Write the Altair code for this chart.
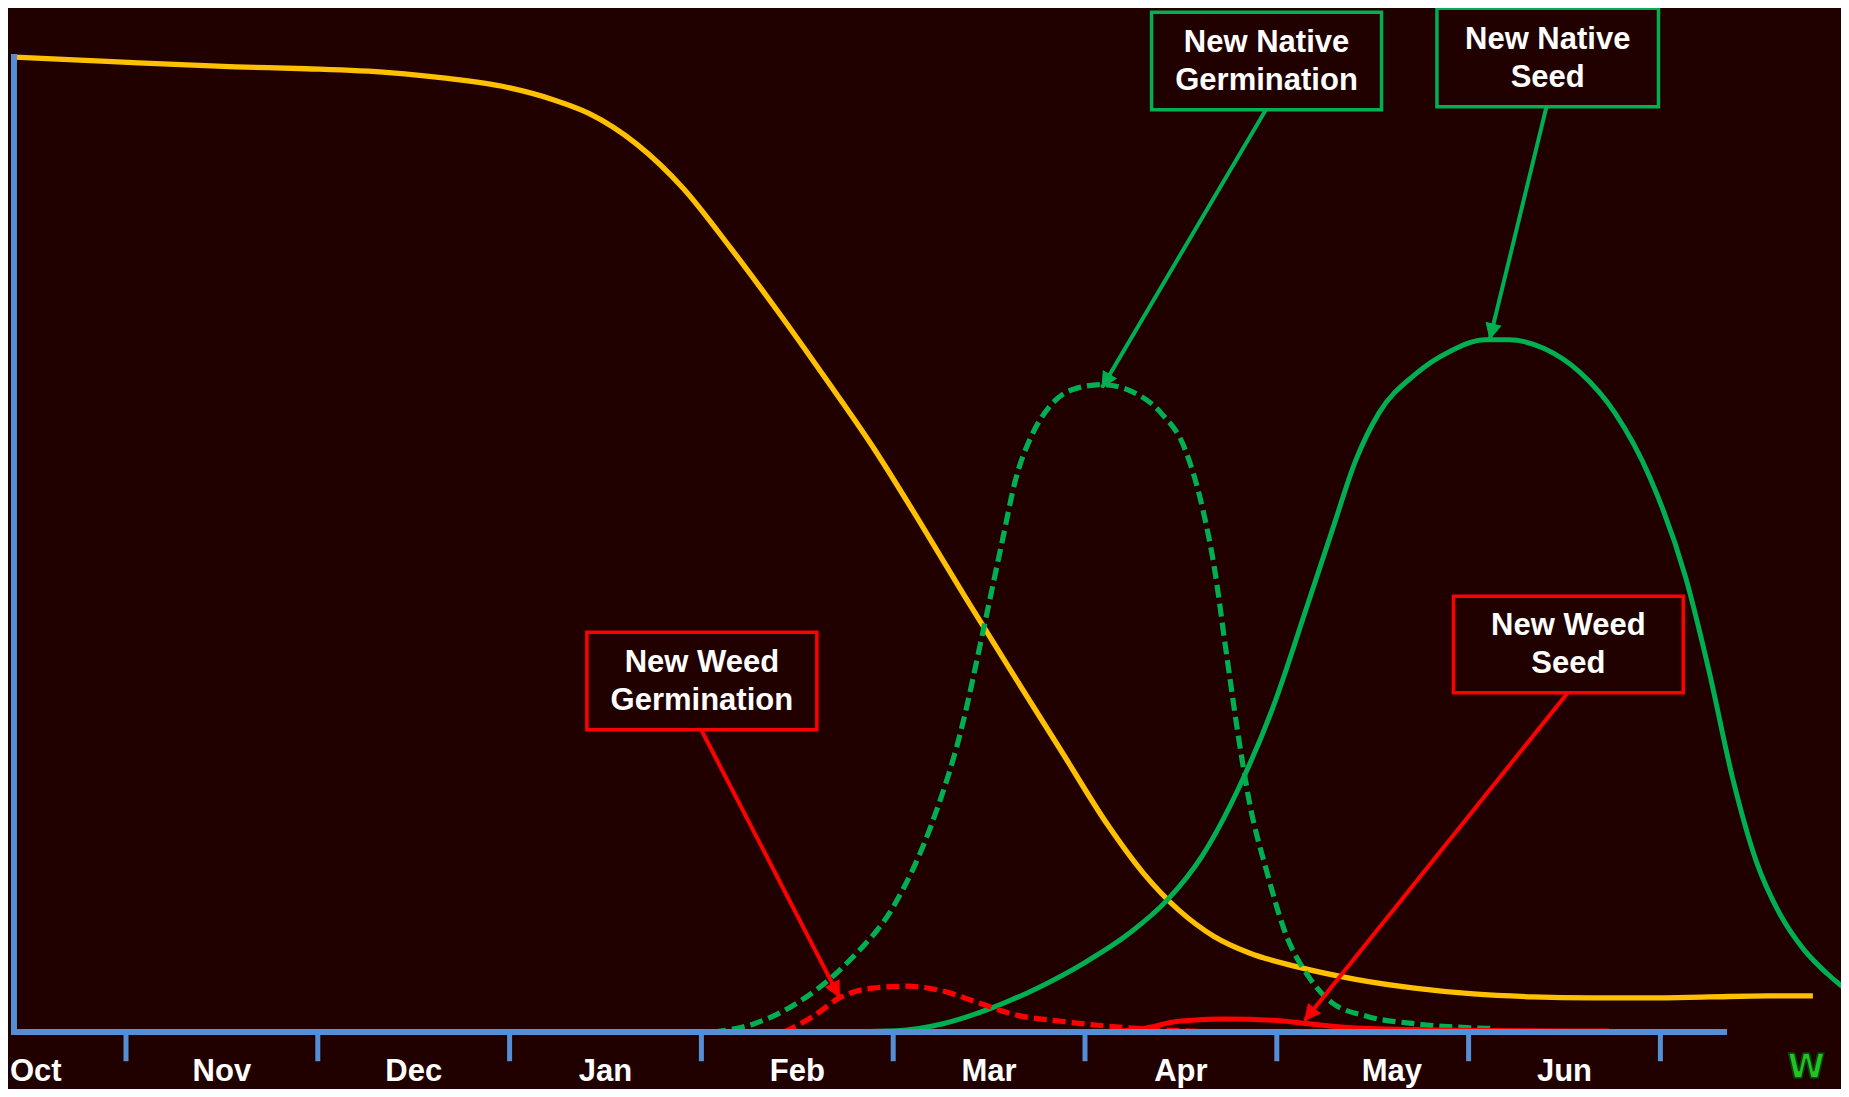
import math
import altair as alt
import pandas as pd

# ---------------- data (x in months: Nov start = 1 ... Jul start = 9; y in % of start) -------------
months = ["Oct", "Nov", "Dec", "Jan", "Feb", "Mar", "Apr", "May", "Jun"]
month_label_x = [0.53, 1.5, 2.5, 3.5, 4.5, 5.5, 6.5, 7.6, 8.5]
tick_x = [1, 2, 3, 4, 5, 6, 7, 8, 9]

seedbank_x = [0.416, 0.957, 1.572, 1.940, 2.371, 2.678, 2.985, 3.231, 3.416, 3.661, 3.907, 4.153,
              4.399, 4.645, 4.891, 5.136, 5.382, 5.628, 5.874, 6.120, 6.304, 6.489, 6.673, 6.857,
              7.103, 7.411, 7.718, 8.025, 8.333, 8.640, 8.947, 9.255, 9.562, 9.795]
seedbank_y = [100, 99.5, 99.0, 98.8, 98.4, 97.8, 96.9, 95.6, 94.2, 91.1, 86.5, 80.4,
              73.9, 67.1, 60.1, 52.4, 44.4, 36.6, 28.9, 21.2, 16.3, 12.5, 9.8, 8.1,
              6.7, 5.4, 4.5, 3.9, 3.6, 3.5, 3.5, 3.6, 3.7, 3.7]

native_germ_x = [4.061, 4.276, 4.522, 4.768, 5.014, 5.198, 5.352, 5.475, 5.567, 5.640, 5.720, 5.813,
                 5.936, 6.089, 6.243, 6.396, 6.519, 6.612, 6.673, 6.734, 6.796, 6.857, 6.950, 7.042,
                 7.165, 7.288, 7.472, 7.718, 8.117]
native_germ_y = [0, 0.85, 3.26, 7.26, 13.3, 21.2, 30.8, 41.7, 50.2, 56.8, 61.1, 64.1,
                 65.9, 66.4, 65.7, 63.5, 59.9, 53.8, 47.8, 39.3, 30.8, 23.6, 16.3, 10.3,
                 5.7, 3.0, 1.6, 0.85, 0.36]

native_seed_x = [4.030, 4.645, 5.014, 5.259, 5.505, 5.751, 5.997, 6.243, 6.427, 6.612, 6.796, 6.980,
                 7.165, 7.288, 7.411, 7.533, 7.718, 7.902, 8.087, 8.210, 8.394, 8.578, 8.763, 8.947,
                 9.132, 9.255, 9.377, 9.500, 9.623, 9.746, 9.869, 9.980, 10.115]
native_seed_y = [0, 0, 0.12, 0.85, 2.4, 4.5, 7.1, 10.3, 13.5, 18.1, 24.8, 33.3,
                 44.1, 51.4, 58.6, 63.5, 67.4, 69.8, 71.0, 71.0, 70.1, 67.7, 63.5, 56.8,
                 46.6, 36.9, 26.0, 17.5, 12.1, 8.5, 6.0, 4.2, 2.8]

weed_germ_x = [4.430, 4.583, 4.719, 4.891, 5.075, 5.259, 5.444, 5.628, 5.874, 6.120, 6.366, 6.734]
weed_germ_y = [0, 1.6, 3.5, 4.5, 4.7, 4.2, 3.0, 1.8, 1.1, 0.6, 0.25, 0]

weed_seed_x = [6.120, 6.304, 6.489, 6.734, 6.980, 7.165, 7.350, 7.718, 8.333, 8.732]
weed_seed_y = [0, 0.36, 1.1, 1.33, 1.2, 0.85, 0.5, 0.25, 0.12, 0.1]

# annotation boxes: text, box extent, arrow start -> tip
ann_text = ["New Native\nGermination", "New Native\nSeed", "New Weed\nGermination", "New Weed\nSeed"]
ann_box_x = [(6.347, 7.546), (7.835, 8.990), (3.403, 4.602), (7.921, 9.119)]
ann_box_y = [(94.6, 104.6), (94.9, 105.0), (31.0, 41.0), (34.8, 44.7)]
ann_arrow_from = [(6.943, 94.6), (8.406, 94.9), (3.999, 31.0), (8.517, 34.8)]
ann_arrow_to = [(6.089, 66.1), (8.111, 71.1), (4.719, 3.6), (7.146, 1.2)]

# ---------------- styling ----------------
BG = "#210000"
YELLOW = "#FFC000"
GREEN = "#00B050"
RED = "#FF0000"
AXIS = "#558ED5"
ann_color = [GREEN, GREEN, RED, RED]

W, H = 1833, 1081
X_DOM = [0.3848, 9.9416]
Y_DOM = [-5.846, 105.03]
PX_X = W / (X_DOM[1] - X_DOM[0])
PX_Y = H / (Y_DOM[1] - Y_DOM[0])

xs = alt.Scale(domain=X_DOM, nice=False, zero=False)
ys = alt.Scale(domain=Y_DOM, nice=False, zero=False)


def X(f):
    return alt.X(f, type="quantitative", scale=xs, axis=None)


def Y(f):
    return alt.Y(f, type="quantitative", scale=ys, axis=None)


def curve(xv, yv, color, width, dash=None):
    df = pd.DataFrame({"m": xv, "v": yv})
    kw = dict(color=color, strokeWidth=width, interpolate="monotone", clip=True)
    if dash:
        kw["strokeDash"] = dash
    return alt.Chart(df).mark_line(**kw).encode(x=X("m"), y=Y("v"))


layers = [
    curve(seedbank_x, seedbank_y, YELLOW, 5.3),
    curve(native_germ_x, native_germ_y, GREEN, 5.2, [13, 6]),
    curve(native_seed_x, native_seed_y, GREEN, 5),
    curve(weed_germ_x, weed_germ_y, RED, 5.2, [13, 6]),
    curve(weed_seed_x, weed_seed_y, RED, 5),
]

# axes drawn as rules
axis_df = pd.DataFrame({"x0": [0.416, 0.416], "x1": [9.332, 0.416], "y0": [0, 0], "y1": [0, 100]})
layers.append(
    alt.Chart(axis_df).mark_rule(color=AXIS, strokeWidth=6, strokeCap="square")
    .encode(x=X("x0"), x2="x1:Q", y=Y("y0"), y2="y1:Q")
)
tick_df = pd.DataFrame({"x": tick_x, "y0": [0] * len(tick_x), "y1": [-3.0] * len(tick_x)})
layers.append(
    alt.Chart(tick_df).mark_rule(color=AXIS, strokeWidth=5)
    .encode(x=X("x"), y=Y("y0"), y2="y1:Q")
)
lab_df = pd.DataFrame({"x": month_label_x, "y": [-5.03] * len(months), "t": months})
layers.append(
    alt.Chart(lab_df).mark_text(color="white", font="Liberation Sans", fontWeight="bold",
                                fontSize=31, baseline="alphabetic", align="center")
    .encode(x=X("x"), y=Y("y"), text="t:N")
)

# annotations
ARROW = "M0,0L-0.5,-1L0.5,-1Z"
for i in range(len(ann_text)):
    c = ann_color[i]
    (bx0, bx1), (by0, by1) = ann_box_x[i], ann_box_y[i]
    box_df = pd.DataFrame({"x0": [bx0], "x1": [bx1], "y0": [by0], "y1": [by1]})
    layers.append(
        alt.Chart(box_df).mark_rect(fill=BG, stroke=c, strokeWidth=3.5)
        .encode(x=X("x0"), x2="x1:Q", y=Y("y0"), y2="y1:Q")
    )
    txt_df = pd.DataFrame({"x": [(bx0 + bx1) / 2], "y": [(by0 + by1) / 2], "t": [ann_text[i]]})
    layers.append(
        alt.Chart(txt_df).mark_text(color="white", font="Liberation Sans", fontWeight="bold",
                                    fontSize=31, lineBreak="\n", lineHeight=38, dy=-18,
                                    baseline="middle", align="center")
        .encode(x=X("x"), y=Y("y"), text="t:N")
    )
    (ax0, ay0), (ax1, ay1) = ann_arrow_from[i], ann_arrow_to[i]
    ar_df = pd.DataFrame({"x0": [ax0], "x1": [ax1], "y0": [ay0], "y1": [ay1]})
    layers.append(
        alt.Chart(ar_df).mark_rule(color=c, strokeWidth=4)
        .encode(x=X("x0"), x2="x1:Q", y=Y("y0"), y2="y1:Q")
    )
    dx = (ax1 - ax0) * PX_X
    dy = -(ay1 - ay0) * PX_Y
    ang = math.degrees(math.atan2(-dx, dy)) % 360
    head_df = pd.DataFrame({"x": [ax1], "y": [ay1]})
    layers.append(
        alt.Chart(head_df).mark_point(shape=ARROW, filled=True, fill=c, stroke=c, strokeWidth=1,
                                      opacity=1, size=900, angle=ang)
        .encode(x=X("x"), y=Y("y"))
    )

# small logo letter at bottom right
logo_df = pd.DataFrame({"x": [9.76], "y": [-1.9], "t": ["W"]})
layers.append(
    alt.Chart(logo_df).mark_text(color="#22C322", stroke="#0B3F0B", strokeWidth=1.5,
                                 font="DejaVu Sans", fontWeight="bold", fontSize=34,
                                 baseline="top", align="center")
    .encode(x=X("x"), y=Y("y"), text="t:N")
)

chart = alt.layer(*layers).properties(
    width=W, height=H,
    autosize=alt.AutoSizeParams(type="none"),
    padding=0,
    background=BG,
).configure_view(stroke=None, fill=BG)

chart.save("out.html", embed_options={"renderer": "svg", "actions": False})
